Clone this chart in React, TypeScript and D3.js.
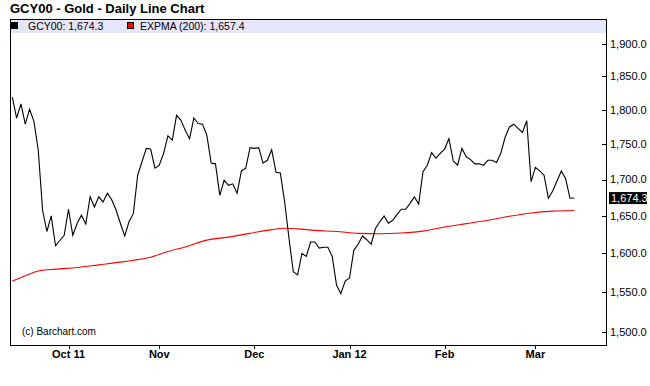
import React from "react";
import * as d3 from "d3";

// daily closes, GCY00 (one per trading day, mid-Sep 2011 .. mid-Mar 2012)
const closes = [
  1819, 1788, 1809, 1779, 1801, 1783, 1742, 1658, 1629, 1650,
  1610, 1617, 1624, 1659, 1624, 1640, 1651, 1639, 1676, 1662,
  1676, 1669, 1681, 1672, 1658, 1640, 1623, 1642, 1653, 1706,
  1725, 1744, 1743, 1716, 1720, 1737, 1762, 1756, 1792, 1785,
  1770, 1758, 1788, 1780, 1779, 1763, 1723, 1722, 1678, 1699,
  1692, 1694, 1681, 1712, 1716, 1745, 1744, 1745, 1723, 1727,
  1742, 1710, 1709, 1669, 1620, 1576, 1572, 1600, 1596, 1615,
  1615, 1607, 1608, 1608, 1596, 1559, 1548, 1564, 1568, 1604,
  1612, 1623, 1618, 1612, 1633, 1642, 1650, 1640, 1644, 1652,
  1659, 1659, 1667, 1676, 1666, 1711, 1720, 1738, 1730, 1737,
  1743, 1758, 1726, 1720, 1744, 1732, 1728, 1722, 1722, 1720,
  1727, 1727, 1724, 1737, 1760, 1775, 1779, 1773, 1767, 1784,
  1697, 1717, 1712, 1706, 1674, 1684, 1698, 1712, 1701, 1674,
  1674.3,
];

// EXPMA(200) read at a subset of the days
const emaIdx = [0, 3, 6, 10, 15, 20, 25, 28, 32, 36, 40, 45, 50, 55, 60, 63, 66, 70, 75, 80, 85, 90, 95, 100, 105, 110, 115, 120, 125, 130];
const emaVals = [
  1564, 1571, 1577, 1579.5, 1581.5, 1585, 1588.5, 1591, 1595, 1602.5,
  1608.5, 1617.5, 1621.5, 1626.5, 1631.5, 1633.3, 1632.5, 1630.5, 1629, 1626.5,
  1626, 1627, 1629.5, 1635, 1639.5, 1644, 1649.5, 1654, 1656.5, 1657.4,
];

const tickIdx = [13, 34, 56, 78, 100, 121];
const tickLabels = ["Oct 11", "Nov", "Dec", "Jan 12", "Feb", "Mar"];
const priceTicks = [1500, 1550, 1600, 1650, 1700, 1750, 1800, 1850, 1900];

const FONT = "'Liberation Sans', Arial, Helvetica, sans-serif";

export default function App() {
  const width = 650;
  const height = 386;
  const frame = { left: 10, right: 606, top: 19, bottom: 345 };

  const x = d3.scaleLinear().domain([0, closes.length - 1]).range([12.3, 574.3]);
  const y = d3.scaleLog().domain([1500, 1900]).range([332, 44]);
  const fmt = d3.format(",.1f");

  const priceLine = d3
    .line<number>()
    .x((d, i) => x(i))
    .y((d) => y(d));

  const emaLine = d3
    .line<number>()
    .x((d, i) => x(emaIdx[i]))
    .y((d) => y(d))
    .curve(d3.curveMonotoneX);

  const last = closes[closes.length - 1];
  const lastEma = emaVals[emaVals.length - 1];

  return (
    <svg
      width={width}
      height={height}
      style={{ position: "absolute", left: 0, top: 0, background: "#fff" }}
      fontFamily={FONT}
    >
      <text x={10} y={13} fontSize={13} fontWeight="bold" fill="#000">
        GCY00 - Gold - Daily Line Chart
      </text>

      {/* legend band */}
      <rect x={frame.left} y={frame.top} width={frame.right - frame.left} height={14} fill="#e6e6fa" />
      <rect x={11} y={22} width={7} height={7} fill="#000" />
      <text x={28} y={30} fontSize={10.5} fill="#000">
        {`GCY00: ${fmt(last)}`}
      </text>
      <rect x={127.5} y={22.5} width={6} height={6} fill="#ff0000" stroke="#000" strokeWidth={1} />
      <text x={140} y={30} fontSize={10.5} fill="#000">
        {`EXPMA (200): ${fmt(lastEma)}`}
      </text>

      {/* frame */}
      <rect
        x={frame.left + 0.5}
        y={frame.top + 0.5}
        width={frame.right - frame.left}
        height={frame.bottom - frame.top}
        fill="none"
        stroke="#000"
        strokeWidth={1}
      />

      {/* y axis, right side */}
      {priceTicks.map((p) => (
        <g key={p}>
          <line x1={frame.right - 4} x2={frame.right} y1={Math.round(y(p)) + 0.5} y2={Math.round(y(p)) + 0.5} stroke="#000" />
          <text x={610} y={y(p)} dy="0.35em" fontSize={11} fill="#000">
            {fmt(p)}
          </text>
        </g>
      ))}

      {/* x axis */}
      {tickIdx.map((t, i) => (
        <g key={t}>
          <line x1={Math.round(x(t)) + 0.5} x2={Math.round(x(t)) + 0.5} y1={frame.bottom} y2={frame.bottom + 4} stroke="#000" />
          <text x={x(t)} y={358} textAnchor="middle" fontSize={11} fontWeight="bold" fill="#000">
            {tickLabels[i]}
          </text>
        </g>
      ))}

      <path d={emaLine(emaVals) ?? ""} fill="none" stroke="#ff0000" strokeWidth={1.1} />
      <path d={priceLine(closes) ?? ""} fill="none" stroke="#000" strokeWidth={1.1} />

      {/* last price marker */}
      <rect x={609} y={y(last) - 6} width={38} height={12} fill="#000" />
      <text x={611} y={y(last)} dy="0.35em" fontSize={11} fill="#fff">
        {fmt(last)}
      </text>

      <text x={22} y={335} fontSize={10} fill="#000">
        (c) Barchart.com
      </text>
    </svg>
  );
}
